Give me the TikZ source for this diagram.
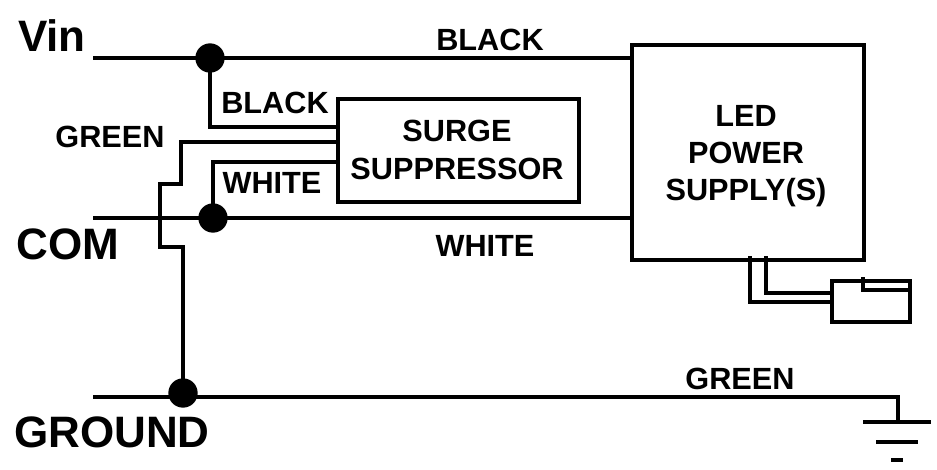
\documentclass[tikz,border=0pt]{standalone}
\usepackage{fontspec}
\setmainfont{Liberation Sans}
\begin{document}
\begin{tikzpicture}[x=0.75pt,y=-0.75pt,line width=3pt,
  wire/.style={line cap=rect, line join=miter},
  lbl/.style={font=\fontsize{23}{27}\selectfont\bfseries, inner sep=0},
  big/.style={font=\fontsize{33}{38}\selectfont\bfseries, inner sep=0},
  dot/.style={circle, fill=black, minimum size=22pt, inner sep=0}]
\useasboundingbox (0,0) rectangle (937,470);
\node[draw, minimum width=174pt, minimum height=161pt, anchor=north west, line width=3pt] (led) at (630,43) {};
\node[lbl, align=center] (ledt) at (746,156) {LED\\[1pt]POWER\\[1pt]SUPPLY(S)};
\node[draw, minimum width=181pt, minimum height=77pt, anchor=north west, line width=3pt] (surge) at (336,97) {};
\node[lbl, align=center] (surget) at (457,150) {SURGE\\[1pt]SUPPRESSOR};
\node[dot] (d1) at (210,58) {};
\node[dot] (d2) at (213,218) {};
\node[dot] (d3) at (183,393) {};
\coordinate (vinL) at (95,58);
\coordinate (comL) at (95,218);
\coordinate (gndL) at (95,397);
\coordinate (gndR) at (898,397);
\draw[wire] (vinL) -- (vinL -| led.west);
\draw[wire] (comL) -- (comL -| led.west);
\draw[wire] (gndL) -- (gndR) -- (898,422);
\draw[wire] (d1.center) -- (210,127) -- (surge.west |- 0,127);
\draw[wire] (surge.west |- 0,162) -- (213,162) -- (d2.center);
\draw[wire] (surge.west |- 0,142) -- (181,142) -- (181,184) -- (160,184) -- (160,247) -- (183,247) -- (d3.center);
\draw (863,422) -- (931,422);
\draw (876,442) -- (918,442);
\draw (891,460) -- (903,460);
\node[draw, minimum width=58.5pt, minimum height=30.75pt, anchor=north west, line width=3pt] (conn) at (830,279) {};
\draw[wire] (750,258) -- (750,302) -- (conn.west |- 0,302);
\draw[wire] (766,258) -- (766,293) -- (conn.west |- 0,293);
\draw[wire] (863,279) -- (863,290) -- (908,290);
\node[big] (vin) at (52,36) {Vin};
\node[big] (com) at (68,244) {COM};
\node[big] (gnd) at (112,432) {GROUND};
\node[lbl] (b1) at (490,40) {BLACK};
\node[lbl] (w1) at (485,246) {WHITE};
\node[lbl] (g1) at (740,379) {GREEN};
\node[lbl] (b2) at (275,103) {BLACK};
\node[lbl] (w2) at (272,183) {WHITE};
\node[lbl] (g2) at (110,137) {GREEN};
\end{tikzpicture}
\end{document}
